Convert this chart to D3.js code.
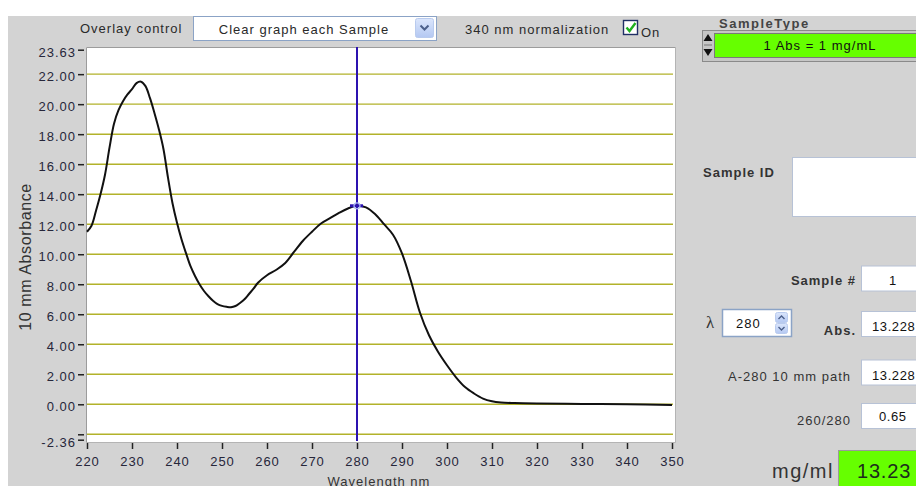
<!DOCTYPE html>
<html>
<head>
<meta charset="utf-8">
<script src="https://cdn.jsdelivr.net/npm/d3@7"></script>
<style>
body { margin: 0; background: #fff; }
svg { display: block; font-family: "Liberation Sans", Arial, sans-serif; }
</style>
</head>
<body>
<svg id="chart" width="916" height="486"></svg>
<script>
// spectrum (nm, 10 mm absorbance)
var wavelengths = [220, 221, 222, 223, 224, 225, 226, 227, 228, 229, 230, 231, 232, 233, 234, 235, 236, 237, 238, 239,
	240, 241, 242, 243, 244, 245, 246, 247, 248, 249, 250, 251, 252, 253, 254, 255, 256, 257, 258,
	260, 262, 264, 266, 268, 270, 272, 274, 276, 278, 280, 282, 284, 286, 288, 290, 292, 294, 296, 298,
	300, 302, 304, 306, 308, 310, 312, 315, 320, 330, 340, 350];
var absorbance = [11.5, 11.9, 12.9, 14.0, 15.3, 17.1, 18.7, 19.6, 20.2, 20.65, 21.0, 21.4, 21.5, 21.2, 20.4, 19.4, 18.3, 17.0, 15.1, 13.4,
	12.1, 11.0, 10.07, 9.2, 8.55, 8.0, 7.55, 7.2, 6.9, 6.68, 6.56, 6.5, 6.47, 6.55, 6.75, 7.0, 7.35, 7.7, 8.1,
	8.6, 8.95, 9.4, 10.15, 10.9, 11.5, 12.05, 12.4, 12.75, 13.05, 13.23, 13.12, 12.68, 12.0, 11.3, 10.05, 8.2, 6.1, 4.6, 3.5,
	2.6, 1.8, 1.15, 0.72, 0.38, 0.2, 0.12, 0.08, 0.05, 0.02, 0.0, -0.05];

var xTicks = [220, 230, 240, 250, 260, 270, 280, 290, 300, 310, 320, 330, 340, 350];
var yTicks = [-2.36, -2, 0, 2, 4, 6, 8, 10, 12, 14, 16, 18, 20, 22, 23.63];
var yTickLabels = ['-2.36', '', '0.00', '2.00', '4.00', '6.00', '8.00', '10.00', '12.00', '14.00', '16.00', '18.00', '20.00', '22.00', '23.63'];
var gridValues = [-2, 0, 2, 4, 6, 8, 10, 12, 14, 16, 18, 20, 22];

var cursorWavelength = 280;
var cursorAbs = 13.228;

var overlayChoice = 'Clear graph each Sample';
var sampleType = '1 Abs = 1 mg/mL';
var fieldLabels = ['Sample #', 'Abs.', 'A-280 10 mm path', '260/280'];
var fieldValues = ['1', '13.228', '13.228', '0.65'];
var lambdaValue = '280';
var concentration = '13.23';

var svg = d3.select('#chart');

var x = d3.scaleLinear().domain([220, 350]).range([87, 672]);
var y = d3.scaleLinear().domain([-2.36, 23.63]).range([439.7, 49.7]);

// panel background
svg.append('rect').attr('x', 8).attr('y', 16).attr('width', 908).attr('height', 470).attr('fill', '#d3d3d3');

// plot area
svg.append('rect').attr('x', 86).attr('y', 47).attr('width', 589).attr('height', 396).attr('fill', '#fff');
svg.append('path').attr('d', 'M86.5,443V47.5H675').attr('fill', 'none').attr('stroke', '#9c9c9c');
svg.append('path').attr('d', 'M675.5,47V442.5H86').attr('fill', 'none').attr('stroke', '#b4b4b4');

svg.append('g').attr('class', 'grid')
	.selectAll('line')
	.data(gridValues)
	.enter()
	.append('line')
	.attr('x1', 87).attr('x2', 673)
	.attr('y1', function(d) { return y(d); })
	.attr('y2', function(d) { return y(d); })
	.attr('stroke', '#b2b22a')
	.attr('stroke-width', 1.4);

// cursor
svg.append('line')
	.attr('x1', x(cursorWavelength)).attr('x2', x(cursorWavelength))
	.attr('y1', 47).attr('y2', 441)
	.attr('stroke', '#2c12b0')
	.attr('stroke-width', 2);

var spectrum = wavelengths.map(function(w, i) { return [w, absorbance[i]]; });

svg.append('path')
	.datum(spectrum)
	.attr('fill', 'none')
	.attr('stroke', '#111')
	.attr('stroke-width', 2)
	.attr('d', d3.line()
		.x(function(d) { return x(d[0]); })
		.y(function(d) { return y(d[1]); })
		.curve(d3.curveCatmullRom.alpha(0.5)));

svg.append('line')
	.attr('x1', x(cursorWavelength) - 7).attr('x2', x(cursorWavelength) + 6)
	.attr('y1', y(cursorAbs)).attr('y2', y(cursorAbs))
	.attr('stroke', '#2c12b0').attr('stroke-width', 3);
svg.append('circle')
	.attr('cx', x(cursorWavelength)).attr('cy', y(cursorAbs)).attr('r', 3)
	.attr('fill', 'none').attr('stroke', '#a9b8f0').attr('stroke-width', 1.2);

// axes
var yAxis = svg.append('g')
	.attr('transform', 'translate(84,0)')
	.call(d3.axisLeft(y).tickValues(yTicks).tickSize(6).tickPadding(2)
		.tickFormat(function(d, i) { return yTickLabels[i]; }));
yAxis.select('.domain').remove();
yAxis.selectAll('.tick line').attr('stroke', '#222').attr('stroke-width', 1.5);
yAxis.selectAll('.tick text')
	.attr('dy', '0.5em')
	.attr('fill', '#26263a')
	.style('font-size', '13px')
	.style('letter-spacing', '1px')
	.style('font-family', '"Liberation Sans", Arial, sans-serif');

var xAxis = svg.append('g')
	.attr('transform', 'translate(0,443)')
	.call(d3.axisBottom(x).tickValues(xTicks).tickSize(6).tickPadding(8).tickFormat(d3.format('d')));
xAxis.select('.domain').remove();
xAxis.selectAll('.tick line').attr('stroke', '#222').attr('stroke-width', 1.5);
xAxis.selectAll('.tick text')
	.attr('fill', '#26263a')
	.style('font-size', '13px')
	.style('letter-spacing', '1px')
	.style('font-family', '"Liberation Sans", Arial, sans-serif');

svg.append('text')
	.attr('x', 379).attr('y', 486)
	.attr('text-anchor', 'middle')
	.attr('fill', '#333')
	.style('font-size', '13px').style('letter-spacing', '1px')
	.text('Wavelength nm');

svg.append('text')
	.attr('transform', 'translate(31,257) rotate(-90)')
	.attr('text-anchor', 'middle')
	.attr('fill', '#333')
	.style('font-size', '16px').style('letter-spacing', '0.6px')
	.text('10 mm Absorbance');

// top controls
function label(txt, px, py, opts) {
	opts = opts || {};
	return svg.append('text')
		.attr('x', px).attr('y', py)
		.attr('text-anchor', opts.anchor || 'start')
		.attr('fill', opts.fill || '#2a2a2a')
		.style('font-size', (opts.size || 13) + 'px')
		.style('font-weight', opts.weight || 'normal')
		.style('letter-spacing', (opts.spacing == null ? 1 : opts.spacing) + 'px')
		.text(txt);
}

label('Overlay control', 80, 33);

svg.append('rect').attr('x', 193.5).attr('y', 16.5).attr('width', 243).attr('height', 24)
	.attr('fill', '#fff').attr('stroke', '#8ba3c6');
label(overlayChoice, 304, 34, { anchor: 'middle' });
var grad = svg.append('defs').append('linearGradient').attr('id', 'btn').attr('x1', 0).attr('x2', 0).attr('y1', 0).attr('y2', 1);
grad.append('stop').attr('offset', 0).attr('stop-color', '#dbe6fc');
grad.append('stop').attr('offset', 1).attr('stop-color', '#b4c8f2');
svg.append('rect').attr('x', 415.5).attr('y', 18.5).attr('width', 18).attr('height', 19).attr('rx', 2)
	.attr('fill', 'url(#btn)').attr('stroke', '#b9cbee');
svg.append('path').attr('d', 'M420.5,25.5l4,4l4,-4').attr('fill', 'none').attr('stroke', '#4b5f8a').attr('stroke-width', 2);

label('340 nm normalization', 465, 34);
svg.append('rect').attr('x', 623.5).attr('y', 20.5).attr('width', 14).attr('height', 14)
	.attr('fill', '#fff').attr('stroke', '#1f2f66').attr('stroke-width', 1.4);
svg.append('path').attr('d', 'M626.5,27.5l3,3.5l6,-8').attr('fill', 'none').attr('stroke', '#1fb01f').attr('stroke-width', 2.4);
label('On', 641, 37);

// right panel
label('SampleType', 719, 28, { weight: 'bold', spacing: 1.5, fill: '#444' });
svg.append('rect').attr('x', 702.5).attr('y', 30.5).attr('width', 220).attr('height', 31)
	.attr('fill', '#c6c6c6').attr('stroke', '#8a8a8a');
svg.append('rect').attr('x', 714.5).attr('y', 33.5).attr('width', 210).attr('height', 24)
	.attr('fill', '#66ff00').attr('stroke', '#7a7a7a');
svg.append('path').attr('d', 'M703.5,41l4.5,-7l4.5,7z M703.5,49l4.5,7l4.5,-7z').attr('fill', '#111');
svg.append('line').attr('x1', 704).attr('x2', 712).attr('y1', 45).attr('y2', 45).attr('stroke', '#777');
label(sampleType, 820, 50, { anchor: 'middle', fill: '#111' });

label('Sample ID', 703, 177, { weight: 'bold', fill: '#333' });
svg.append('rect').attr('x', 792.5).attr('y', 157.5).attr('width', 130).attr('height', 59)
	.attr('fill', '#fff').attr('stroke', '#b7c2d6');

var fieldRows = [
	{ boxY: 266, labelEnd: 856, labelBase: 285, valueX: 893, anchor: 'middle', valueBase: 285 },
	{ boxY: 311.5, labelEnd: 856, labelBase: 334.5, valueX: 872, anchor: 'start', valueBase: 330.5 },
	{ boxY: 360, labelEnd: 851, labelBase: 381, valueX: 872, anchor: 'start', valueBase: 379.5 },
	{ boxY: 403.5, labelEnd: 851, labelBase: 424.5, valueX: 879, anchor: 'start', valueBase: 421 }
];

fieldRows.forEach(function(row, i) {
	label(fieldLabels[i], row.labelEnd, row.labelBase, { anchor: 'end', weight: i < 2 ? 'bold' : 'normal', fill: '#333' });
	svg.append('rect').attr('x', 861.5).attr('y', row.boxY).attr('width', 60).attr('height', 25)
		.attr('fill', '#fff').attr('stroke', '#b7c2d6');
	label(fieldValues[i], row.valueX, row.valueBase, { anchor: row.anchor, fill: '#111', spacing: 0.6 });
});

svg.append('text').attr('x', 706).attr('y', 328)
	.attr('fill', '#333')
	.style('font-family', '"Liberation Serif", serif').style('font-size', '17px')
	.text('λ');
svg.append('rect').attr('x', 722.5).attr('y', 309.5).attr('width', 69).attr('height', 27)
	.attr('fill', '#fff').attr('stroke', '#8ba3c6').attr('stroke-width', 1.5);
label(lambdaValue, 736, 328, { fill: '#111' });
svg.append('rect').attr('x', 775.5).attr('y', 312.5).attr('width', 12).attr('height', 10).attr('rx', 2).attr('fill', 'url(#btn)').attr('stroke', '#b9cbee');
svg.append('rect').attr('x', 775.5).attr('y', 323.5).attr('width', 12).attr('height', 10).attr('rx', 2).attr('fill', 'url(#btn)').attr('stroke', '#b9cbee');
svg.append('path').attr('d', 'M778.5,319l3,-3l3,3 M778.5,327l3,3l3,-3').attr('fill', 'none').attr('stroke', '#4b5f8a').attr('stroke-width', 1.4);

label('mg/ml', 772, 478, { size: 20, spacing: 1.5, fill: '#333' });
svg.append('rect').attr('x', 838.5).attr('y', 450.5).attr('width', 80).attr('height', 40)
	.attr('fill', '#66ff00').attr('stroke', '#9a9a9a');
label(concentration, 857, 478, { size: 20, spacing: 0.8, fill: '#1c2e1c' });
</script>
</body>
</html>
